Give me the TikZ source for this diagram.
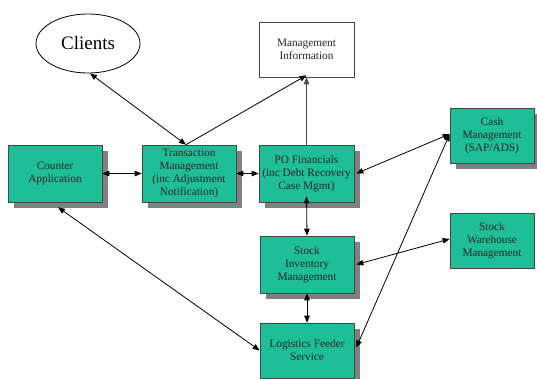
\documentclass[tikz,border=0pt]{standalone}
\usepackage{fontspec}
\setmainfont{Liberation Serif}
\usetikzlibrary{arrows.meta,shapes.geometric,shadows,calc}
\definecolor{boxgreen}{RGB}{30,190,150}
\definecolor{shadowgray}{RGB}{128,128,128}
\definecolor{edgegray}{RGB}{70,70,70}

\begin{document}
\begin{tikzpicture}[x=1pt,y=-1pt,
  sysbox/.style={draw=edgegray, fill=boxgreen, line width=0.6pt,
    minimum width=94pt, minimum height=57pt, align=center, inner sep=1pt,
    font=\fontsize{11.3}{13.2}\selectfont, text=black!85},
  shadowed/.style={general shadow={fill=shadowgray, shadow xshift=6pt, shadow yshift=-6pt}},
  infobox/.style={draw=edgegray, fill=white, line width=0.6pt,
    minimum width=95pt, minimum height=55pt, align=center, inner sep=1pt,
    font=\fontsize{11.3}{13.2}\selectfont, text=black!85},
  link/.style={line width=0.8pt, black,
    {Triangle[length=7pt,width=5.5pt]}-{Triangle[length=7pt,width=5.5pt]}},
  tolink/.style={line width=0.8pt, black, -{Triangle[length=7pt,width=5.5pt]}}
]
\useasboundingbox (0,0) rectangle (537,379);

% systems
\node[ellipse, draw=black, line width=0.8pt, fill=white, minimum width=104pt,
      minimum height=59pt, font=\fontsize{19}{22}\selectfont] (clients) at (88,43.5) {Clients};
\node[infobox] (mi) at (306.5,49.5) {Management\\Information};
\node[sysbox, shadowed] (counter) at (55,173.5) {Counter\\Application};
\node[sysbox, shadowed] (tm) at (189,173.5) {Transaction\\Management\\(inc Adjustment\\Notification)};
\node[sysbox, shadowed, minimum width=95pt] (po) at (306.5,173.5) {PO Financials\\(inc Debt Recovery\\Case Mgmt)};
\node[sysbox, shadowed, minimum width=84pt, minimum height=55pt] (cash) at (492,135.5) {Cash\\Management\\(SAP/ADS)};
\node[sysbox, minimum width=84pt, minimum height=55pt] (sw) at (492,240.5) {Stock\\Warehouse\\Management};
\node[sysbox, shadowed] (si) at (307,264.5) {Stock\\Inventory\\Management};
\node[sysbox, shadowed, minimum height=55pt] (lf) at (307,350.5) {Logistics Feeder\\Service};

% connections
\draw[link] ([xshift=2pt]clients.south) -- ([xshift=-3pt]tm.north);
\draw[tolink] ([xshift=-3pt]tm.north) -- ([yshift=2pt]mi.south);
\draw[tolink, line width=0.6pt, draw=black!70] (po.north) -- (mi.south);
\draw[link] (counter.east) -- (tm.west);
\draw[link] (tm.east) -- (po.west);
\draw[link] ([xshift=2pt]po.east) -- ([yshift=1.5pt]cash.west);
\draw[link] ([yshift=6pt]po.south) -- (si.north);
\draw[link] ([xshift=2pt]si.east) -- ([yshift=1.5pt]sw.west);
\draw[link] (si.south) -- (lf.north);
\draw[link] ([shift={(3pt,-5pt)}]counter.south) -- (lf.west);
\draw[link] ([yshift=1.5pt]cash.west) -- ([shift={(2pt,3pt)}]lf.east);
\end{tikzpicture}
\end{document}
